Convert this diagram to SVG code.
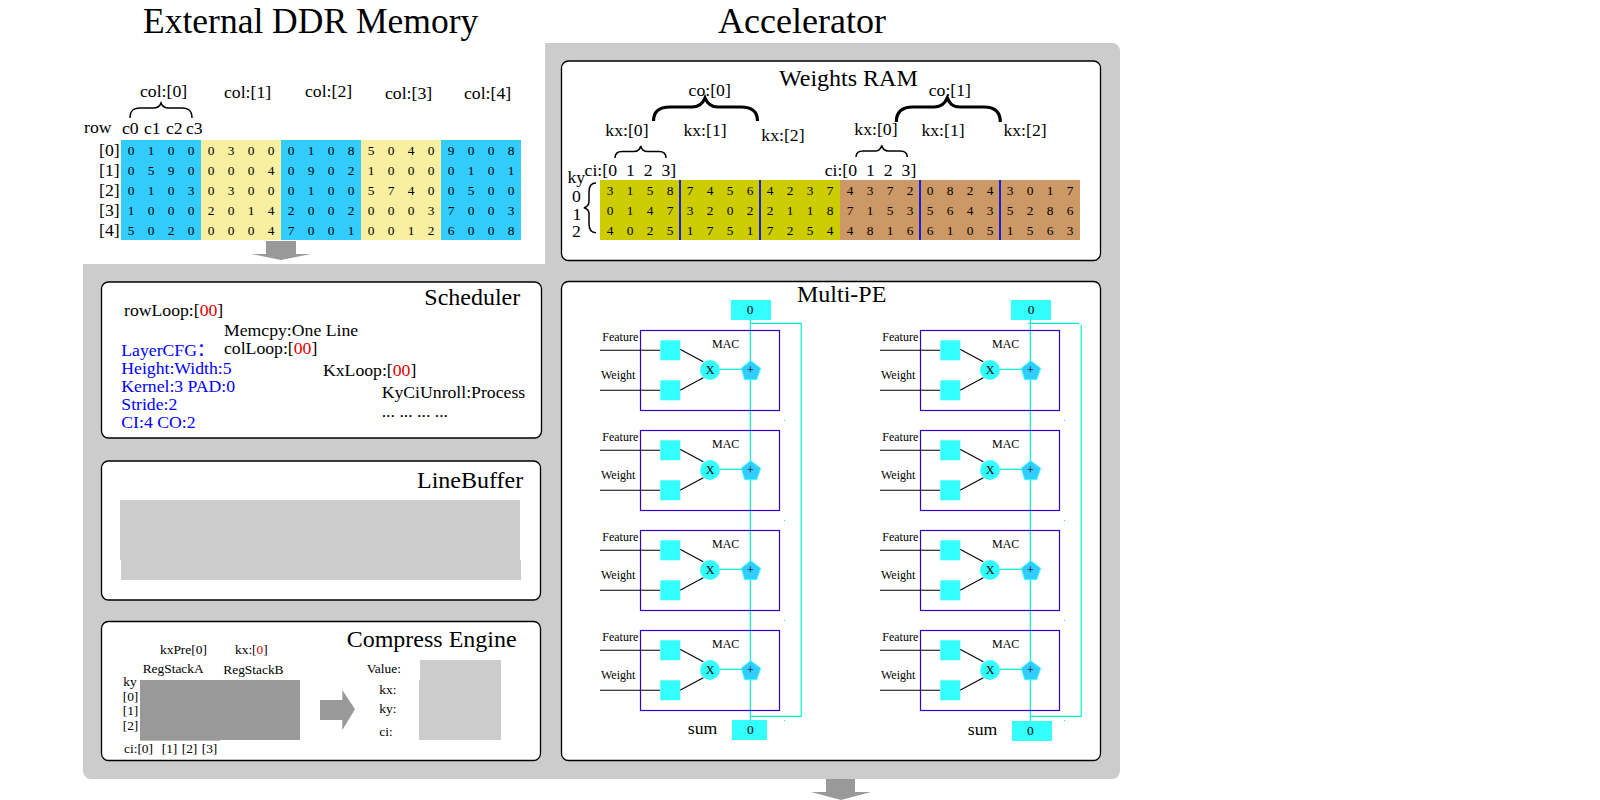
<svg xmlns="http://www.w3.org/2000/svg" width="1600" height="800" viewBox="0 0 1600 800">
<style>
text{font-family:"Liberation Serif","Times New Roman",serif;fill:#000}
.h{font-size:36px}.t{font-size:24px}.m{font-size:17.7px}.s{font-size:13.4px}.f{font-size:12px}
.c{text-anchor:middle}.r{fill:#e00000}.b{fill:#0000ff;font-size:17.7px}
.cjk{font-family:"Noto Sans CJK SC",sans-serif}
.box{fill:#fff;stroke:#000;stroke-width:1.3}
.mac{fill:none;stroke:#3300cc;stroke-width:1.2}
.k{stroke:#000;stroke-width:1.1;fill:none}
.cy{stroke:#00f0d0;stroke-width:1.2;fill:none}
.sq{fill:#33ffff}
.p{fill:#33ccff;stroke:#33ffff;stroke-width:1}
.br{fill:none;stroke:#000;stroke-width:1.5}
.brt{fill:none;stroke:#000;stroke-width:3.2}
</style>
<rect width="1600" height="800" fill="#fff"/>
<path id="background" d="M545 43H1112a8 8 0 0 1 8 8V771a8 8 0 0 1-8 8H91a8 8 0 0 1-8-8V264H545Z" fill="#ccc"/>
<text class="h" x="143" y="33" style="font-size:35.5px">External DDR Memory</text>
<text class="h" x="718" y="33">Accelerator</text>

<g id="ddr">
<rect x="121" y="140" width="80" height="100" fill="#33ccff"/><rect x="201" y="140" width="80" height="100" fill="#f8efa0"/><rect x="281" y="140" width="80" height="100" fill="#33ccff"/><rect x="361" y="140" width="80" height="100" fill="#f8efa0"/><rect x="441" y="140" width="80" height="100" fill="#33ccff"/>
<text class="m" x="140" y="97">col:[0]</text><text class="m" x="224" y="98">col:[1]</text><text class="m" x="305" y="97">col:[2]</text><text class="m" x="385" y="99">col:[3]</text><text class="m" x="464" y="99">col:[4]</text>
<path class="br" d="M130 118C130 110 134 108 140 108H153C158 108 160 106 161 103C162 106 164 108 169 108H182C188 108 192 110 192 118"/>
<text class="m" x="84" y="133">row</text><text class="m" x="122" y="134">c0</text><text class="m" x="144" y="134">c1</text><text class="m" x="166" y="134">c2</text><text class="m" x="186" y="134">c3</text>
<text class="m" x="99" y="156">[0]</text><text class="m" x="99" y="176">[1]</text><text class="m" x="99" y="196">[2]</text><text class="m" x="99" y="216">[3]</text><text class="m" x="99" y="236">[4]</text>
<text class="s c" y="155"><tspan x="131">0</tspan><tspan x="151">1</tspan><tspan x="171">0</tspan><tspan x="191">0</tspan><tspan x="211">0</tspan><tspan x="231">3</tspan><tspan x="251">0</tspan><tspan x="271">0</tspan><tspan x="291">0</tspan><tspan x="311">1</tspan><tspan x="331">0</tspan><tspan x="351">8</tspan><tspan x="371">5</tspan><tspan x="391">0</tspan><tspan x="411">4</tspan><tspan x="431">0</tspan><tspan x="451">9</tspan><tspan x="471">0</tspan><tspan x="491">0</tspan><tspan x="511">8</tspan></text>
<text class="s c" y="175"><tspan x="131">0</tspan><tspan x="151">5</tspan><tspan x="171">9</tspan><tspan x="191">0</tspan><tspan x="211">0</tspan><tspan x="231">0</tspan><tspan x="251">0</tspan><tspan x="271">4</tspan><tspan x="291">0</tspan><tspan x="311">9</tspan><tspan x="331">0</tspan><tspan x="351">2</tspan><tspan x="371">1</tspan><tspan x="391">0</tspan><tspan x="411">0</tspan><tspan x="431">0</tspan><tspan x="451">0</tspan><tspan x="471">1</tspan><tspan x="491">0</tspan><tspan x="511">1</tspan></text>
<text class="s c" y="195"><tspan x="131">0</tspan><tspan x="151">1</tspan><tspan x="171">0</tspan><tspan x="191">3</tspan><tspan x="211">0</tspan><tspan x="231">3</tspan><tspan x="251">0</tspan><tspan x="271">0</tspan><tspan x="291">0</tspan><tspan x="311">1</tspan><tspan x="331">0</tspan><tspan x="351">0</tspan><tspan x="371">5</tspan><tspan x="391">7</tspan><tspan x="411">4</tspan><tspan x="431">0</tspan><tspan x="451">0</tspan><tspan x="471">5</tspan><tspan x="491">0</tspan><tspan x="511">0</tspan></text>
<text class="s c" y="215"><tspan x="131">1</tspan><tspan x="151">0</tspan><tspan x="171">0</tspan><tspan x="191">0</tspan><tspan x="211">2</tspan><tspan x="231">0</tspan><tspan x="251">1</tspan><tspan x="271">4</tspan><tspan x="291">2</tspan><tspan x="311">0</tspan><tspan x="331">0</tspan><tspan x="351">2</tspan><tspan x="371">0</tspan><tspan x="391">0</tspan><tspan x="411">0</tspan><tspan x="431">3</tspan><tspan x="451">7</tspan><tspan x="471">0</tspan><tspan x="491">0</tspan><tspan x="511">3</tspan></text>
<text class="s c" y="235"><tspan x="131">5</tspan><tspan x="151">0</tspan><tspan x="171">2</tspan><tspan x="191">0</tspan><tspan x="211">0</tspan><tspan x="231">0</tspan><tspan x="251">0</tspan><tspan x="271">4</tspan><tspan x="291">7</tspan><tspan x="311">0</tspan><tspan x="331">0</tspan><tspan x="351">1</tspan><tspan x="371">0</tspan><tspan x="391">0</tspan><tspan x="411">1</tspan><tspan x="431">2</tspan><tspan x="451">6</tspan><tspan x="471">0</tspan><tspan x="491">0</tspan><tspan x="511">8</tspan></text>
<polygon points="266,241 296,241 296,254 311,254 281,260 251,254 266,254" fill="#999"/>
</g>

<g id="weights-ram">
<rect class="box" x="561.5" y="61" width="539" height="199.500" rx="7"/>
<text class="t" x="779" y="86">Weights RAM</text>
<rect x="600" y="180" width="240" height="60" fill="#cccc00"/><rect x="840" y="180" width="240" height="60" fill="#cc9966"/>
<g fill="#1a1ae0"><rect x="679" y="180" width="2" height="60"/><rect x="759" y="180" width="2" height="60"/><rect x="919" y="180" width="2" height="60"/><rect x="999" y="180" width="2" height="60"/></g>
<text class="m" x="688.6" y="96">co:[0]</text><text class="m" x="928.7" y="96">co:[1]</text>
<path class="brt" d="M653.5 121C653.5 111 660 107 670 107H692C700 107 703 103 705 98C707 103 710 107 718 107H741C751 107 757.5 111 757.5 121"/>
<path class="brt" d="M896.3 122C896.3 111 903 107 913 107H934C942 107 945 103 947.3 98C949.5 103 952 107 960 107H984C994 107 1000.3 111 1000.3 122"/>
<text class="m" x="605.3" y="136">kx:[0]</text><text class="m" x="683.4" y="136">kx:[1]</text><text class="m" x="761.3" y="141">kx:[2]</text><text class="m" x="854.3" y="135">kx:[0]</text><text class="m" x="921.4" y="136">kx:[1]</text><text class="m" x="1003.4" y="136">kx:[2]</text>
<path class="br" d="M615 158C615 154 617 151.500 622 151.500H634C638 151.500 640 149 640.700 146C641.500 149 643.500 151.500 647.500 151.500H659C664 151.500 666 154 666 158"/>
<path class="br" d="M856 157C856 153 858 151 863 151H875C879 151 881 148.500 881.800 145.500C882.500 148.500 884.500 151 888.500 151H900C905 151 907.300 153 907.300 157"/>
<text class="m" x="584.6" y="176" word-spacing="4.5">ci:[0 1 2 3]</text><text class="m" x="824.7" y="176" word-spacing="4.5">ci:[0 1 2 3]</text>
<text class="m" x="567.4" y="183">ky</text><text class="m" x="572" y="202">0</text><text class="m" x="572.6" y="220">1</text><text class="m" x="572" y="237">2</text>
<path d="M596 183C591 183 589 186 589 192V201C589 205 587 207 583.900 207.700C587 208.500 589 210 589 214V224C589 230 591 232.700 596 232.700" fill="none" stroke="#000" stroke-width="1.500"/>
<text class="s c" y="194.500"><tspan x="610">3</tspan><tspan x="630">1</tspan><tspan x="650">5</tspan><tspan x="670">8</tspan><tspan x="690">7</tspan><tspan x="710">4</tspan><tspan x="730">5</tspan><tspan x="750">6</tspan><tspan x="770">4</tspan><tspan x="790">2</tspan><tspan x="810">3</tspan><tspan x="830">7</tspan><tspan x="850">4</tspan><tspan x="870">3</tspan><tspan x="890">7</tspan><tspan x="910">2</tspan><tspan x="930">0</tspan><tspan x="950">8</tspan><tspan x="970">2</tspan><tspan x="990">4</tspan><tspan x="1010">3</tspan><tspan x="1030">0</tspan><tspan x="1050">1</tspan><tspan x="1070">7</tspan></text>
<text class="s c" y="214.500"><tspan x="610">0</tspan><tspan x="630">1</tspan><tspan x="650">4</tspan><tspan x="670">7</tspan><tspan x="690">3</tspan><tspan x="710">2</tspan><tspan x="730">0</tspan><tspan x="750">2</tspan><tspan x="770">2</tspan><tspan x="790">1</tspan><tspan x="810">1</tspan><tspan x="830">8</tspan><tspan x="850">7</tspan><tspan x="870">1</tspan><tspan x="890">5</tspan><tspan x="910">3</tspan><tspan x="930">5</tspan><tspan x="950">6</tspan><tspan x="970">4</tspan><tspan x="990">3</tspan><tspan x="1010">5</tspan><tspan x="1030">2</tspan><tspan x="1050">8</tspan><tspan x="1070">6</tspan></text>
<text class="s c" y="234.500"><tspan x="610">4</tspan><tspan x="630">0</tspan><tspan x="650">2</tspan><tspan x="670">5</tspan><tspan x="690">1</tspan><tspan x="710">7</tspan><tspan x="730">5</tspan><tspan x="750">1</tspan><tspan x="770">7</tspan><tspan x="790">2</tspan><tspan x="810">5</tspan><tspan x="830">4</tspan><tspan x="850">4</tspan><tspan x="870">8</tspan><tspan x="890">1</tspan><tspan x="910">6</tspan><tspan x="930">6</tspan><tspan x="950">1</tspan><tspan x="970">0</tspan><tspan x="990">5</tspan><tspan x="1010">1</tspan><tspan x="1030">5</tspan><tspan x="1050">6</tspan><tspan x="1070">3</tspan></text>
</g>

<g id="scheduler">
<rect class="box" x="101.500" y="282" width="440" height="156" rx="7"/>
<text class="t" x="424.300" y="305">Scheduler</text>
<text class="m" x="124" y="316">rowLoop:[<tspan class="r">00</tspan>]</text>
<text class="m" x="224" y="336">Memcpy:One Line</text>
<text class="m" x="224" y="354.300">colLoop:[<tspan class="r">00</tspan>]</text>
<text class="m" x="323" y="376">KxLoop:[<tspan class="r">00</tspan>]</text>
<text class="m" x="381.700" y="398.300">KyCiUnroll:Process</text>
<text class="m" x="381.700" y="416.700">... ... ... ...</text>
<text class="b" x="121.300" y="356">LayerCFG<tspan class="cjk" style="fill:#0000ff">：</tspan></text>
<text class="b" x="121.300" y="374.300">Height:Width:5</text>
<text class="b" x="121.300" y="392">Kernel:3 PAD:0</text>
<text class="b" x="121.300" y="410">Stride:2</text>
<text class="b" x="121.300" y="427.700">CI:4 CO:2</text>
</g>

<g id="linebuffer">
<rect class="box" x="101.500" y="461" width="439" height="139" rx="7"/>
<text class="t" x="417" y="488">LineBuffer</text>
<rect x="120" y="500" width="400" height="60" fill="#ccc"/><rect x="121" y="560" width="400" height="20" fill="#ccc"/>
</g>

<g id="compress-engine">
<rect class="box" x="101.500" y="621.500" width="439" height="139" rx="7"/>
<text class="t" x="346.700" y="647">Compress Engine</text>
<text class="s" x="160" y="654.300">kxPre[0]</text>
<text class="s" x="235" y="654.300">kx:[<tspan class="r">0</tspan>]</text>
<text class="s" x="142.700" y="673.300">RegStackA</text><text class="s" x="223.300" y="674">RegStackB</text>
<text class="s" x="123.300" y="686">ky</text><text class="s" x="122.700" y="701">[0]</text><text class="s" x="122.700" y="715">[1]</text><text class="s" x="122.700" y="730">[2]</text>
<rect x="140" y="680" width="80" height="60.700" fill="#999"/><rect x="220" y="680" width="80" height="60" fill="#999"/>
<text class="s" x="124" y="752.700">ci:[0]</text><text class="s" x="161.700" y="752.700">[1]</text><text class="s" x="181.700" y="752.700">[2]</text><text class="s" x="201.700" y="752.700">[3]</text>
<polygon points="320,700 342.300,700 342.300,690 355,709.300 342.300,730 342.300,720 320,720" fill="#999"/>
<text class="s" x="366.700" y="673.300">Value:</text><text class="s" x="379.300" y="694.300">kx:</text><text class="s" x="379.300" y="713.300">ky:</text><text class="s" x="379.300" y="736">ci:</text>
<rect x="420" y="660" width="81" height="80" fill="#ccc"/><rect x="419" y="680" width="2" height="60" fill="#ccc"/>
</g>

<g id="multi-pe">
<rect class="box" x="561.500" y="281.500" width="539" height="479" rx="7"/>
<text class="t" x="797" y="302">Multi-PE</text>
</g>

<g id="connectors">
<path class="cy" d="M750.300 320V720M750.300 323.300H801.200V716.300H750.300"/>
<path class="cy" d="M1030.300 320V721M1028.300 323.300H1079M1081.200 325V716.300H1030.300"/>
<g fill="#00f0d0"><rect x="784" y="420" width="1" height="1"/><rect x="784" y="520" width="1" height="1"/><rect x="784" y="620" width="1" height="1"/><rect x="784" y="720" width="1" height="1"/><rect x="1064" y="420" width="1" height="1"/><rect x="1064" y="520" width="1" height="1"/><rect x="1064" y="620" width="1" height="1"/><rect x="1064" y="720" width="1" height="1"/></g>
</g>

<g id="sum-left"><rect class="sq" x="731" y="300" width="40" height="20"/><text class="s c" x="750" y="314">0</text><rect class="sq" x="732" y="720" width="35" height="20"/><text class="s c" x="750.400" y="734.300">0</text><text class="m" x="687.800" y="734">sum</text></g>
<g id="sum-right"><rect class="sq" x="1011" y="300" width="40" height="20"/><text class="s c" x="1031" y="314">0</text><rect class="sq" x="1012" y="721" width="40" height="20"/><text class="s c" x="1030.400" y="735">0</text><text class="m" x="967.800" y="735">sum</text></g>

<g id="mac-l0" transform="translate(0,0)"><rect class="mac" x="640.500" y="330.500" width="139" height="80"/><path class="k" d="M600 350.300H660M600 390.300H660M680 349.300L703.300 361.700M680 390.300L703.300 377.700"/><rect class="sq" x="660.300" y="340.300" width="20" height="20"/><rect class="sq" x="660.300" y="380.300" width="20" height="20"/><path class="cy" d="M720 369.300H741.700"/><circle class="sq" cx="710" cy="370" r="10"/><polygon class="p" points="750.700,360.700 760.700,368.300 756.700,379.700 744.700,379.700 741.300,368.300"/><text class="f" x="602.300" y="340.700">Feature</text><text class="f" x="601" y="379.300">Weight</text><text class="f" x="712" y="347.700">MAC</text><text class="f c" x="710" y="374">X</text><text class="f c" x="750.500" y="374">+</text></g>
<g id="mac-l1" transform="translate(0,100)"><rect class="mac" x="640.500" y="330.500" width="139" height="80"/><path class="k" d="M600 350.300H660M600 390.300H660M680 349.300L703.300 361.700M680 390.300L703.300 377.700"/><rect class="sq" x="660.300" y="340.300" width="20" height="20"/><rect class="sq" x="660.300" y="380.300" width="20" height="20"/><path class="cy" d="M720 369.300H741.700"/><circle class="sq" cx="710" cy="370" r="10"/><polygon class="p" points="750.700,360.700 760.700,368.300 756.700,379.700 744.700,379.700 741.300,368.300"/><text class="f" x="602.300" y="340.700">Feature</text><text class="f" x="601" y="379.300">Weight</text><text class="f" x="712" y="347.700">MAC</text><text class="f c" x="710" y="374">X</text><text class="f c" x="750.500" y="374">+</text></g>
<g id="mac-l2" transform="translate(0,200)"><rect class="mac" x="640.500" y="330.500" width="139" height="80"/><path class="k" d="M600 350.300H660M600 390.300H660M680 349.300L703.300 361.700M680 390.300L703.300 377.700"/><rect class="sq" x="660.300" y="340.300" width="20" height="20"/><rect class="sq" x="660.300" y="380.300" width="20" height="20"/><path class="cy" d="M720 369.300H741.700"/><circle class="sq" cx="710" cy="370" r="10"/><polygon class="p" points="750.700,360.700 760.700,368.300 756.700,379.700 744.700,379.700 741.300,368.300"/><text class="f" x="602.300" y="340.700">Feature</text><text class="f" x="601" y="379.300">Weight</text><text class="f" x="712" y="347.700">MAC</text><text class="f c" x="710" y="374">X</text><text class="f c" x="750.500" y="374">+</text></g>
<g id="mac-l3" transform="translate(0,300)"><rect class="mac" x="640.500" y="330.500" width="139" height="80"/><path class="k" d="M600 350.300H660M600 390.300H660M680 349.300L703.300 361.700M680 390.300L703.300 377.700"/><rect class="sq" x="660.300" y="340.300" width="20" height="20"/><rect class="sq" x="660.300" y="380.300" width="20" height="20"/><path class="cy" d="M720 369.300H741.700"/><circle class="sq" cx="710" cy="370" r="10"/><polygon class="p" points="750.700,360.700 760.700,368.300 756.700,379.700 744.700,379.700 741.300,368.300"/><text class="f" x="602.300" y="340.700">Feature</text><text class="f" x="601" y="379.300">Weight</text><text class="f" x="712" y="347.700">MAC</text><text class="f c" x="710" y="374">X</text><text class="f c" x="750.500" y="374">+</text></g>
<g id="mac-r0" transform="translate(280,0)"><rect class="mac" x="640.500" y="330.500" width="139" height="80"/><path class="k" d="M600 350.300H660M600 390.300H660M680 349.300L703.300 361.700M680 390.300L703.300 377.700"/><rect class="sq" x="660.300" y="340.300" width="20" height="20"/><rect class="sq" x="660.300" y="380.300" width="20" height="20"/><path class="cy" d="M720 369.300H741.700"/><circle class="sq" cx="710" cy="370" r="10"/><polygon class="p" points="750.700,360.700 760.700,368.300 756.700,379.700 744.700,379.700 741.300,368.300"/><text class="f" x="602.300" y="340.700">Feature</text><text class="f" x="601" y="379.300">Weight</text><text class="f" x="712" y="347.700">MAC</text><text class="f c" x="710" y="374">X</text><text class="f c" x="750.500" y="374">+</text></g>
<g id="mac-r1" transform="translate(280,100)"><rect class="mac" x="640.500" y="330.500" width="139" height="80"/><path class="k" d="M600 350.300H660M600 390.300H660M680 349.300L703.300 361.700M680 390.300L703.300 377.700"/><rect class="sq" x="660.300" y="340.300" width="20" height="20"/><rect class="sq" x="660.300" y="380.300" width="20" height="20"/><path class="cy" d="M720 369.300H741.700"/><circle class="sq" cx="710" cy="370" r="10"/><polygon class="p" points="750.700,360.700 760.700,368.300 756.700,379.700 744.700,379.700 741.300,368.300"/><text class="f" x="602.300" y="340.700">Feature</text><text class="f" x="601" y="379.300">Weight</text><text class="f" x="712" y="347.700">MAC</text><text class="f c" x="710" y="374">X</text><text class="f c" x="750.500" y="374">+</text></g>
<g id="mac-r2" transform="translate(280,200)"><rect class="mac" x="640.500" y="330.500" width="139" height="80"/><path class="k" d="M600 350.300H660M600 390.300H660M680 349.300L703.300 361.700M680 390.300L703.300 377.700"/><rect class="sq" x="660.300" y="340.300" width="20" height="20"/><rect class="sq" x="660.300" y="380.300" width="20" height="20"/><path class="cy" d="M720 369.300H741.700"/><circle class="sq" cx="710" cy="370" r="10"/><polygon class="p" points="750.700,360.700 760.700,368.300 756.700,379.700 744.700,379.700 741.300,368.300"/><text class="f" x="602.300" y="340.700">Feature</text><text class="f" x="601" y="379.300">Weight</text><text class="f" x="712" y="347.700">MAC</text><text class="f c" x="710" y="374">X</text><text class="f c" x="750.500" y="374">+</text></g>
<g id="mac-r3" transform="translate(280,300)"><rect class="mac" x="640.500" y="330.500" width="139" height="80"/><path class="k" d="M600 350.300H660M600 390.300H660M680 349.300L703.300 361.700M680 390.300L703.300 377.700"/><rect class="sq" x="660.300" y="340.300" width="20" height="20"/><rect class="sq" x="660.300" y="380.300" width="20" height="20"/><path class="cy" d="M720 369.300H741.700"/><circle class="sq" cx="710" cy="370" r="10"/><polygon class="p" points="750.700,360.700 760.700,368.300 756.700,379.700 744.700,379.700 741.300,368.300"/><text class="f" x="602.300" y="340.700">Feature</text><text class="f" x="601" y="379.300">Weight</text><text class="f" x="712" y="347.700">MAC</text><text class="f c" x="710" y="374">X</text><text class="f c" x="750.500" y="374">+</text></g>

<polygon id="output-arrow" points="826,779 855,779 855,792 871,792 841,800 811,792 826,792" fill="#999"/>
</svg>
